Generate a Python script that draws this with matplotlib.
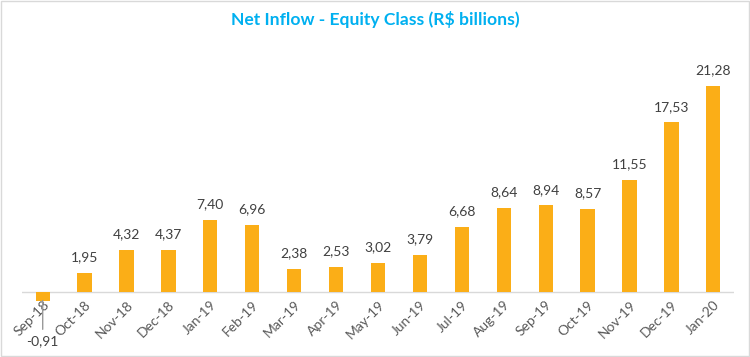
import matplotlib
matplotlib.use("Agg")
import matplotlib.pyplot as plt
from matplotlib.patches import Rectangle

months = ["Sep-18", "Oct-18", "Nov-18", "Dec-18", "Jan-19", "Feb-19", "Mar-19", "Apr-19",
          "May-19", "Jun-19", "Jul-19", "Aug-19", "Sep-19", "Oct-19", "Nov-19", "Dec-19", "Jan-20"]
values = [-0.91, 1.95, 4.32, 4.37, 7.40, 6.96, 2.38, 2.53, 3.02, 3.79, 6.68, 8.64, 8.94, 8.57,
          11.55, 17.53, 21.28]

plt.rcParams['font.family'] = ['Lato', 'DejaVu Sans']

fig = plt.figure(figsize=(7.5, 3.57), dpi=100)
ax = fig.add_axes([0.029, 0.115, 0.95, 0.717])

x = list(range(len(values)))
ax.bar(x, values, width=0.34, color="#FBAE17", zorder=2)
ax.set_xlim(-0.5, len(values) - 0.5)
ax.set_ylim(-2.5, 24)
ax.axhline(0, color="#D9D9D9", lw=1, zorder=1)

for xi, v in zip(x, values):
    s = f"{v:.2f}".replace(".", ",")
    if v >= 0:
        ax.annotate(s, (xi, v), xytext=(0, 7), textcoords="offset points",
                    ha="center", va="bottom", fontsize=10, color="#404040")
    else:
        ax.annotate(s, (xi, v), xytext=(0, -29), textcoords="offset points",
                    ha="center", va="center", fontsize=10, color="#404040",
                    annotation_clip=False,
                    arrowprops=dict(arrowstyle="-", color="#999999", lw=1,
                                    shrinkA=2, shrinkB=0, relpos=(0.5, 1.0)))

ax.spines["bottom"].set_position(("data", 0))
ax.set_xticks(x)
ax.set_xticklabels(months, rotation=45, ha="right", rotation_mode="anchor",
                   fontsize=10, color="#595959")
ax.tick_params(axis="x", length=0, pad=5)
ax.set_yticks([])
for sp in ax.spines.values():
    sp.set_visible(False)

fig.text(0.5, 0.945, "Net Inflow - Equity Class (R$ billions)", ha="center", va="center",
         fontsize=12.6, fontweight="bold", color="#00B0F0")

fig.patches.append(Rectangle((0.001, 0.002), 0.997, 0.995, transform=fig.transFigure,
                             fill=False, edgecolor="#D9D9D9", lw=1))

fig.savefig("out.png", dpi=100)
